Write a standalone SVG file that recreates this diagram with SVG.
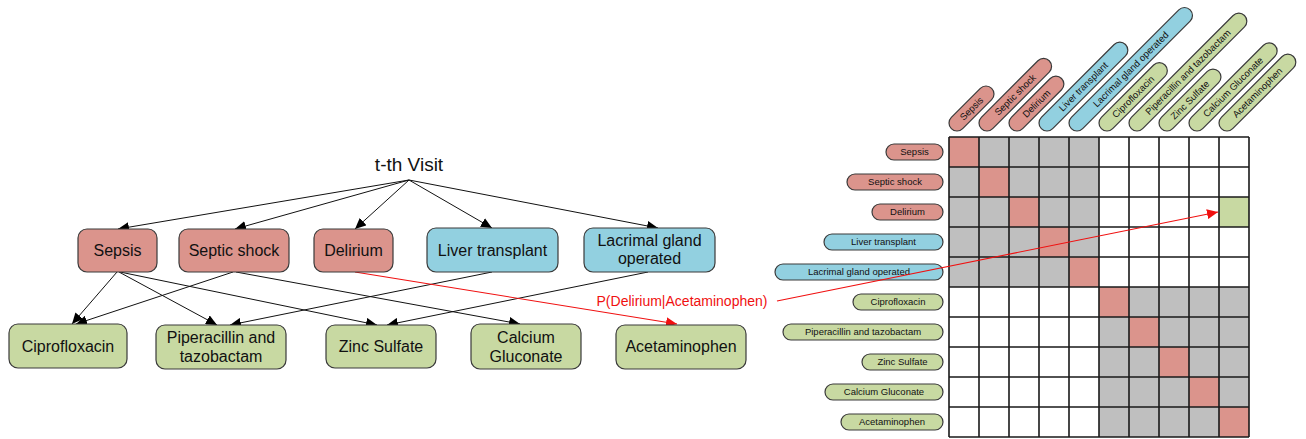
<svg xmlns="http://www.w3.org/2000/svg" width="1306" height="439" viewBox="0 0 1306 439">
<style>
.pk{fill:#DB948C}
.bl{fill:#92D0E0}
.gr{fill:#C8D9A2}
.node{stroke:#3a3a3a;stroke-width:1.2}
.nt{font-family:"Liberation Sans",Arial,sans-serif;font-size:16px;fill:#111;text-anchor:middle}
.lt{font-family:"Liberation Sans",Arial,sans-serif;font-size:9.5px;fill:#111;text-anchor:middle}
.pill{stroke:#3a3a3a;stroke-width:1.2}
.edge{stroke:#111;stroke-width:1;fill:none;marker-end:url(#ah)}
.redge{stroke:#F01010;stroke-width:1.1;fill:none;marker-end:url(#rah)}
</style>
<defs>
<marker id="ah" markerWidth="12" markerHeight="10" refX="11" refY="5" orient="auto" markerUnits="userSpaceOnUse"><path d="M0,0 L11,5 L0,10 z" fill="#000"/></marker>
<marker id="rah" markerWidth="12" markerHeight="10" refX="11" refY="5" orient="auto" markerUnits="userSpaceOnUse"><path d="M0,0 L11,5 L0,10 z" fill="#F01010"/></marker>
</defs>
<rect width="1306" height="439" fill="#fff"/>

<g id="connectors">
<line class="edge" x1="409" y1="180" x2="118" y2="229"/>
<line class="edge" x1="409" y1="180" x2="235" y2="229"/>
<line class="edge" x1="409" y1="180" x2="355" y2="229"/>
<line class="edge" x1="409" y1="180" x2="492" y2="228"/>
<line class="edge" x1="409" y1="180" x2="658" y2="228"/>
<line class="edge" x1="117" y1="272" x2="72" y2="324"/>
<line class="edge" x1="119" y1="272" x2="217" y2="325"/>
<line class="edge" x1="120" y1="272" x2="377" y2="325"/>
<line class="edge" x1="233" y1="272" x2="76" y2="324"/>
<line class="edge" x1="236" y1="272" x2="520" y2="324"/>
<line class="edge" x1="492" y1="272" x2="230" y2="325"/>
<line class="edge" x1="648" y1="272" x2="387" y2="325"/>
<line class="redge" x1="355" y1="272" x2="677" y2="324"/>
</g>

<text x="409" y="171" font-family="Liberation Sans,Arial,sans-serif" font-size="19" fill="#111" text-anchor="middle">t-th Visit</text>
<text x="682" y="306" font-family="Liberation Sans,Arial,sans-serif" font-size="14" fill="#F01010" text-anchor="middle">P(Delirium|Acetaminophen)</text>

<g id="n-sepsis"><rect class="node pk" x="78" y="229" width="79" height="43" rx="9"/><text class="nt" x="117.5" y="256">Sepsis</text></g>
<g id="n-septic"><rect class="node pk" x="179" y="229" width="110" height="43" rx="9"/><text class="nt" x="234" y="256">Septic shock</text></g>
<g id="n-delirium"><rect class="node pk" x="314" y="229" width="79" height="43" rx="9"/><text class="nt" x="353.5" y="256">Delirium</text></g>
<g id="n-liver"><rect class="node bl" x="427" y="228" width="131" height="44" rx="9"/><text class="nt" x="492.5" y="256">Liver transplant</text></g>
<g id="n-lacrimal"><rect class="node bl" x="584" y="228" width="131" height="44" rx="9"/><text class="nt" x="649.5" y="246">Lacrimal gland</text><text class="nt" x="649.5" y="264">operated</text></g>
<g id="n-cipro"><rect class="node gr" x="9" y="324" width="118" height="44" rx="9"/><text class="nt" x="68" y="352">Ciprofloxacin</text></g>
<g id="n-pipe"><rect class="node gr" x="156" y="325" width="130" height="44" rx="9"/><text class="nt" x="221" y="343">Piperacillin and</text><text class="nt" x="221" y="362">tazobactam</text></g>
<g id="n-zinc"><rect class="node gr" x="326" y="325" width="110" height="43" rx="9"/><text class="nt" x="381" y="352">Zinc Sulfate</text></g>
<g id="n-calcium"><rect class="node gr" x="471" y="324" width="110" height="45" rx="9"/><text class="nt" x="526" y="343">Calcium</text><text class="nt" x="526" y="362">Gluconate</text></g>
<g id="n-acet"><rect class="node gr" x="616" y="325" width="130" height="44" rx="9"/><text class="nt" x="681" y="352">Acetaminophen</text></g>

<g id="matrix">
<rect x="949" y="137" width="150" height="150" fill="#BFBFBF"/>
<rect x="1099" y="287" width="150" height="150" fill="#BFBFBF"/>
<rect class="pk" x="949" y="137" width="30" height="30"/>
<rect class="pk" x="979" y="167" width="30" height="30"/>
<rect class="pk" x="1009" y="197" width="30" height="30"/>
<rect class="pk" x="1039" y="227" width="30" height="30"/>
<rect class="pk" x="1069" y="257" width="30" height="30"/>
<rect class="pk" x="1099" y="287" width="30" height="30"/>
<rect class="pk" x="1129" y="317" width="30" height="30"/>
<rect class="pk" x="1159" y="347" width="30" height="30"/>
<rect class="pk" x="1189" y="377" width="30" height="30"/>
<rect class="pk" x="1219" y="407" width="30" height="30"/>
<rect class="gr" x="1219" y="197" width="30" height="30"/>
<path d="M949,137H1249M949,167H1249M949,197H1249M949,227H1249M949,257H1249M949,287H1249M949,317H1249M949,347H1249M949,377H1249M949,407H1249M949,437H1249M949,137V437M979,137V437M1009,137V437M1039,137V437M1069,137V437M1099,137V437M1129,137V437M1159,137V437M1189,137V437M1219,137V437M1249,137V437" stroke="#1a1a1a" stroke-width="1.6" fill="none"/>
</g>

<g id="row-labels">
<g id="r-sepsis"><rect class="pill pk" x="886" y="144" width="57" height="16" rx="8"/><text class="lt" x="914.5" y="155.3">Sepsis</text></g>
<g id="r-septic"><rect class="pill pk" x="847" y="174" width="96" height="16" rx="8"/><text class="lt" x="895" y="185.3">Septic shock</text></g>
<g id="r-delirium"><rect class="pill pk" x="872" y="204" width="71" height="16" rx="8"/><text class="lt" x="907.5" y="215.3">Delirium</text></g>
<g id="r-liver"><rect class="pill bl" x="824" y="234" width="119" height="16" rx="8"/><text class="lt" x="883.5" y="245.3">Liver transplant</text></g>
<g id="r-lacrimal"><rect class="pill bl" x="775" y="264" width="168" height="16" rx="8"/><text class="lt" x="859" y="275.3">Lacrimal gland operated</text></g>
<g id="r-cipro"><rect class="pill gr" x="853" y="294" width="90" height="16" rx="8"/><text class="lt" x="898" y="305.3">Ciprofloxacin</text></g>
<g id="r-pipe"><rect class="pill gr" x="783" y="324" width="160" height="16" rx="8"/><text class="lt" x="863" y="335.3">Piperacillin and tazobactam</text></g>
<g id="r-zinc"><rect class="pill gr" x="862" y="354" width="81" height="16" rx="8"/><text class="lt" x="902.5" y="365.3">Zinc Sulfate</text></g>
<g id="r-calcium"><rect class="pill gr" x="825" y="384" width="118" height="16" rx="8"/><text class="lt" x="884" y="395.3">Calcium Gluconate</text></g>
<g id="r-acet"><rect class="pill gr" x="841" y="414" width="102" height="16" rx="8"/><text class="lt" x="892" y="425.3">Acetaminophen</text></g>
</g>

<g id="col-labels">
<g id="c-sepsis" transform="translate(957,123) rotate(-45)"><rect class="pill pk" x="-8" y="-8" width="57" height="16" rx="8"/><text class="lt" x="20.5" y="3.3">Sepsis</text></g>
<g id="c-septic" transform="translate(987,123) rotate(-45)"><rect class="pill pk" x="-8" y="-8" width="96" height="16" rx="8"/><text class="lt" x="40" y="3.3">Septic shock</text></g>
<g id="c-delirium" transform="translate(1017,123) rotate(-45)"><rect class="pill pk" x="-8" y="-8" width="71" height="16" rx="8"/><text class="lt" x="27.5" y="3.3">Delirium</text></g>
<g id="c-liver" transform="translate(1047,123) rotate(-45)"><rect class="pill bl" x="-8" y="-8" width="119" height="16" rx="8"/><text class="lt" x="51.5" y="3.3">Liver transplant</text></g>
<g id="c-lacrimal" transform="translate(1077,123) rotate(-45)"><rect class="pill bl" x="-8" y="-8" width="168" height="16" rx="8"/><text class="lt" x="76" y="3.3">Lacrimal gland operated</text></g>
<g id="c-cipro" transform="translate(1107,123) rotate(-45)"><rect class="pill gr" x="-8" y="-8" width="90" height="16" rx="8"/><text class="lt" x="37" y="3.3">Ciprofloxacin</text></g>
<g id="c-pipe" transform="translate(1137,123) rotate(-45)"><rect class="pill gr" x="-8" y="-8" width="160" height="16" rx="8"/><text class="lt" x="72" y="3.3">Piperacillin and tazobactam</text></g>
<g id="c-zinc" transform="translate(1167,123) rotate(-45)"><rect class="pill gr" x="-8" y="-8" width="81" height="16" rx="8"/><text class="lt" x="32.5" y="3.3">Zinc Sulfate</text></g>
<g id="c-calcium" transform="translate(1197,123) rotate(-45)"><rect class="pill gr" x="-8" y="-8" width="118" height="16" rx="8"/><text class="lt" x="51" y="3.3">Calcium Gluconate</text></g>
<g id="c-acet" transform="translate(1227,123) rotate(-45)"><rect class="pill gr" x="-8" y="-8" width="102" height="16" rx="8"/><text class="lt" x="43" y="3.3">Acetaminophen</text></g>
</g>

<g id="connectors-matrix">
<line class="redge" x1="777" y1="301" x2="1218" y2="212"/>
</g>
</svg>
